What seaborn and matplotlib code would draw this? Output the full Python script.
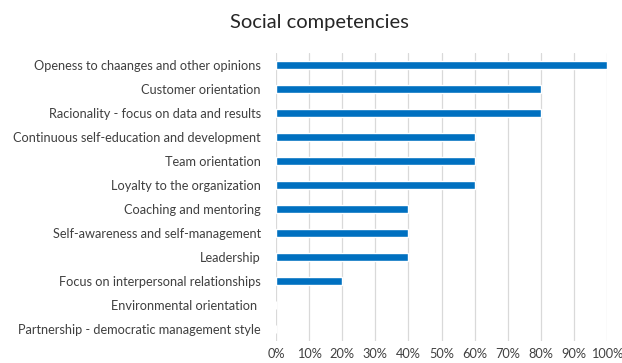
import matplotlib
matplotlib.use("Agg")
import matplotlib.pyplot as plt
import seaborn as sns
import pandas as pd

categories = [
    "Openess to chaanges and other opinions",
    "Customer orientation",
    "Racionality - focus on data and results",
    "Continuous self-education and development",
    "Team orientation",
    "Loyalty to the organization",
    "Coaching and mentoring",
    "Self-awareness and self-management",
    "Leadership",
    "Focus on interpersonal relationships",
    "Environmental orientation ",
    "Partnership - democratic management style",
]
values = [100, 80, 80, 60, 60, 60, 40, 40, 40, 20, 0, 0]
tick_values = [0, 10, 20, 30, 40, 50, 60, 70, 80, 90, 100]
tick_labels = [f"{v}%" for v in tick_values]

df = pd.DataFrame({"category": categories, "value": values})

sns.set_theme(style="white")
plt.rcParams["font.family"] = ["Lato", "DejaVu Sans"]

fig = plt.figure(figsize=(6.22, 3.63), dpi=100)
ax = fig.add_axes([276 / 622, 22 / 363, 331 / 622, 288 / 363])

sns.barplot(data=df, x="value", y="category", color="#0070C0",
            width=0.36, saturation=1, ax=ax, orient="h")

ax.set_xlim(0, 100)
ax.set_ylim(len(categories) - 0.5, -0.5)
ax.set_xticks(tick_values)
ax.set_xticklabels(tick_labels)
ax.xaxis.grid(True, color="#d9d9d9", linewidth=0.9)
ax.set_axisbelow(True)
for s in ax.spines.values():
    s.set_visible(False)
ax.tick_params(axis="both", length=0, labelsize=9.2, colors="#404040")
ax.tick_params(axis="x", pad=5)
ax.tick_params(axis="y", pad=11)
ax.set_xlabel("")
ax.set_ylabel("")

fig.text(0.513, 0.937, "Social competencies", ha="center", va="center",
         fontsize=14.5, color="#262626")

fig.savefig("out.png", dpi=100, facecolor="white")
